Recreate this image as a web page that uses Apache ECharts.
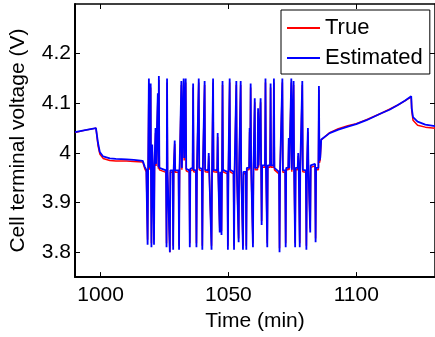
<!DOCTYPE html>
<html>
<head>
<meta charset="utf-8">
<script src="https://cdn.jsdelivr.net/npm/echarts@6/dist/echarts.min.js"></script>
<style>
html,body{margin:0;padding:0;background:#fff;}
#chart{width:435px;height:337px;}
</style>
</head>
<body>
<div id="chart"></div>
<script>
// ---- data ----
var seriesNames = ['True', 'Estimated'];
var xTickValues = [1000, 1050, 1100];
var yTickValues = [3.8, 3.9, 4.0, 4.1, 4.2];

// time (min)
var timeMin = [
  990, 994, 998.2, 998.6, 999.0, 999.7, 1001, 1003.6, 1006, 1010.2, 1013, 1016.5,
  1017.3, 1017.9,
  1018.2, 1018.4, 1018.6,
  1018.7, 1018.9, 1019.1,
  1019.4, 1019.6, 1019.7,
  1019.8, 1019.9, 1020.0,
  1020.1, 1020.2, 1020.4,
  1020.7, 1020.9, 1021.1,
  1021.3, 1021.5, 1021.7,
  1022.2, 1022.4, 1022.6,
  1022.7, 1022.8, 1023.0,
  1025.6, 1025.8, 1025.9,
  1025.9, 1026.0, 1026.2,
  1026.9, 1027.1, 1027.3,
  1028.2, 1028.4, 1028.6,
  1028.8, 1029.0, 1029.2,
  1030.5, 1030.7, 1030.9,
  1031.4, 1031.6, 1031.8,
  1032.3, 1032.5, 1032.7,
  1033.1, 1033.3, 1033.5,
  1034.7, 1034.9, 1035.1,
  1036.0, 1036.2, 1036.4,
  1037.3, 1037.5, 1037.7,
  1038.2, 1038.4, 1038.6,
  1039.6, 1039.8, 1040.0,
  1040.5, 1040.7, 1040.9,
  1042.1, 1042.3, 1042.5,
  1043.2, 1043.4, 1043.6,
  1043.8, 1044.0, 1044.2,
  1045.6, 1045.8, 1046.0,
  1046.4, 1046.6, 1046.8,
  1047.1, 1047.3, 1047.5,
  1047.5, 1047.7, 1047.9,
  1049.6, 1049.8, 1050.0,
  1050.3, 1050.5, 1050.7,
  1052.0, 1052.2, 1052.4,
  1052.9, 1053.1, 1053.3,
  1053.8, 1054.0, 1054.2,
  1054.6, 1054.8, 1055.0,
  1055.5, 1055.7, 1055.9,
  1056.8, 1057.0, 1057.2,
  1058.1, 1058.3, 1058.5,
  1058.5, 1058.7, 1058.9,
  1059.4, 1059.6, 1059.8,
  1060.1, 1060.3, 1060.5,
  1061.4, 1061.6, 1061.8,
  1062.4, 1062.6, 1062.8,
  1062.8, 1063.0, 1063.2,
  1064.3, 1064.5, 1064.7,
  1065.0, 1065.2, 1065.4,
  1066.3, 1066.5, 1066.7,
  1067.6, 1067.8, 1068.0,
  1069.8, 1070.0, 1070.2,
  1070.9, 1071.1, 1071.3,
  1072.2, 1072.4, 1072.6,
  1073.4, 1073.6, 1073.8,
  1074.4, 1074.6, 1074.8,
  1075.3, 1075.5, 1075.7,
  1075.9, 1076.1, 1076.3,
  1077.1, 1077.3, 1077.5,
  1077.7, 1077.9, 1078.1,
  1078.7, 1078.9, 1079.1,
  1080.3, 1080.5, 1080.7,
  1080.9, 1081.1, 1081.3,
  1081.8, 1082.0, 1082.2,
  1083.9, 1084.1, 1084.3,
  1085.2, 1085.4, 1085.6,
  1085.9, 1086.3,
  1089.6, 1093, 1096.7, 1100, 1104, 1109.8, 1113, 1116.1, 1119, 1121.5,
  1121.7, 1122.2, 1124, 1127, 1130.8
];

// estimated terminal voltage (V)
var estimatedV = [
  4.042, 4.046, 4.050, 4.048, 4.020, 4.002, 3.993, 3.989, 3.988, 3.987, 3.986, 3.984,
  3.972, 3.966,
  3.966, 3.815, 3.968,
  3.968, 4.150, 3.970,
  3.970, 4.140, 3.968,
  3.968, 3.810, 3.970,
  3.970, 4.017, 3.972,
  3.970, 3.815, 3.975,
  3.975, 4.050, 3.978,
  3.975, 4.120, 3.972,
  3.972, 4.155, 3.970,
  3.965, 3.810, 3.962,
  3.962, 4.150, 3.960,
  3.962, 3.800, 3.965,
  3.965, 3.805, 3.968,
  3.968, 4.025, 3.965,
  3.965, 3.805, 3.968,
  3.970, 4.145, 3.970,
  3.970, 4.150, 3.990,
  3.990, 4.150, 3.968,
  3.965, 3.810, 3.968,
  3.970, 4.140, 3.966,
  3.965, 3.810, 3.970,
  3.970, 4.150, 3.970,
  3.968, 3.805, 3.970,
  3.970, 4.145, 3.966,
  3.965, 4.000, 3.965,
  3.965, 3.805, 3.968,
  3.968, 4.150, 3.966,
  3.965, 4.040, 3.965,
  3.962, 3.840, 3.962,
  3.962, 3.835, 3.965,
  3.965, 4.145, 3.966,
  3.962, 3.805, 3.965,
  3.965, 4.150, 3.966,
  3.962, 3.805, 3.960,
  3.960, 4.145, 3.962,
  3.962, 3.820, 3.970,
  3.968, 4.145, 3.966,
  3.965, 3.805, 3.962,
  3.962, 3.805, 3.970,
  3.970, 4.050, 3.972,
  3.972, 4.140, 3.970,
  3.970, 3.810, 3.970,
  3.970, 4.110, 3.970,
  3.970, 4.090, 3.975,
  3.975, 4.110, 3.972,
  3.972, 3.855, 3.975,
  3.975, 4.150, 3.970,
  3.970, 3.810, 3.975,
  3.975, 4.140, 3.975,
  3.975, 4.150, 3.970,
  3.962, 3.800, 3.965,
  3.965, 4.150, 3.965,
  3.965, 3.810, 3.970,
  3.970, 4.030, 3.970,
  3.970, 4.150, 3.966,
  3.965, 4.145, 3.966,
  3.966, 3.810, 3.970,
  3.970, 4.000, 3.970,
  3.970, 3.810, 3.970,
  3.970, 4.145, 3.966,
  3.965, 3.805, 3.970,
  3.970, 4.050, 3.970,
  3.970, 3.840, 3.975,
  3.978, 3.820, 3.970,
  3.970, 4.135, 3.985,
  3.990, 4.027,
  4.040, 4.047, 4.053, 4.058, 4.066, 4.080, 4.087, 4.096, 4.105, 4.114,
  4.090, 4.072, 4.063, 4.057, 4.054
];

// true terminal voltage (V)
var trueV = [
  4.041, 4.046, 4.050, 4.047, 4.015, 3.998, 3.989, 3.985, 3.984, 3.984, 3.983, 3.982,
  3.968, 3.962,
  3.962, 3.825, 3.964,
  3.964, 4.140, 3.966,
  3.966, 4.132, 3.964,
  3.964, 3.818, 3.966,
  3.966, 4.010, 3.968,
  3.966, 3.825, 3.970,
  3.970, 4.040, 3.974,
  3.970, 4.110, 3.968,
  3.968, 4.147, 3.966,
  3.961, 3.818, 3.958,
  3.958, 4.142, 3.956,
  3.958, 3.800, 3.961,
  3.961, 3.813, 3.964,
  3.964, 4.018, 3.961,
  3.961, 3.813, 3.964,
  3.966, 4.137, 3.966,
  3.966, 4.142, 3.985,
  3.985, 4.142, 3.964,
  3.961, 3.818, 3.964,
  3.966, 4.132, 3.962,
  3.961, 3.818, 3.966,
  3.966, 4.142, 3.966,
  3.964, 3.813, 3.966,
  3.966, 4.137, 3.962,
  3.961, 3.994, 3.961,
  3.961, 3.813, 3.964,
  3.964, 4.142, 3.962,
  3.961, 4.032, 3.961,
  3.958, 3.848, 3.958,
  3.958, 3.843, 3.961,
  3.961, 4.137, 3.962,
  3.958, 3.813, 3.961,
  3.961, 4.142, 3.962,
  3.958, 3.813, 3.956,
  3.956, 4.137, 3.958,
  3.958, 3.828, 3.966,
  3.964, 4.137, 3.962,
  3.961, 3.813, 3.958,
  3.958, 3.813, 3.966,
  3.966, 4.042, 3.968,
  3.968, 4.132, 3.966,
  3.966, 3.818, 3.966,
  3.966, 4.102, 3.966,
  3.966, 4.082, 3.971,
  3.971, 4.102, 3.968,
  3.968, 3.863, 3.971,
  3.971, 4.142, 3.966,
  3.966, 3.818, 3.971,
  3.971, 4.132, 3.971,
  3.971, 4.142, 3.966,
  3.958, 3.808, 3.961,
  3.961, 4.142, 3.961,
  3.961, 3.818, 3.966,
  3.966, 4.022, 3.966,
  3.966, 4.142, 3.962,
  3.961, 4.137, 3.962,
  3.962, 3.818, 3.966,
  3.966, 3.994, 3.966,
  3.966, 3.818, 3.966,
  3.966, 4.137, 3.962,
  3.961, 3.813, 3.966,
  3.966, 4.042, 3.966,
  3.966, 3.848, 3.971,
  3.974, 3.828, 3.966,
  3.966, 4.127, 3.980,
  3.986, 4.026,
  4.041, 4.049, 4.055, 4.059, 4.067, 4.080, 4.088, 4.096, 4.105, 4.113,
  4.085, 4.066, 4.056, 4.052, 4.050
];

// ---- chart ----
var FONT = 'Liberation Sans';
function pairs(xs, ys) {
  var out = [];
  var n = Math.min(xs.length, ys.length);
  for (var i = 0; i < n; i++) out.push([xs[i], ys[i]]);
  return out;
}
var chart = echarts.init(document.getElementById('chart'), null, {renderer: 'canvas'});
var mainLine = {show: true, lineStyle: {color: '#000', width: 2}};
var boxLine = {show: true, lineStyle: {color: '#000', width: 1.5}};
var tick = {show: true, inside: true, length: 5, lineStyle: {color: '#000', width: 1}};
var option = {
  backgroundColor: '#fff',
  animation: false,
  grid: {left: 75, right: 0, top: 4, bottom: 57, containLabel: false},
  legend: {
    orient: 'vertical', left: 281, top: 10,
    padding: [6, 7, 4, 6], itemGap: 6,
    itemWidth: 33, itemHeight: 2, icon: 'rect',
    backgroundColor: '#fff', borderColor: '#000', borderWidth: 1,
    textStyle: {fontFamily: FONT, fontSize: 22, color: '#000', lineHeight: 24},
    data: seriesNames
  },
  xAxis: [{
    type: 'value', min: 990, max: 1130.8,
    name: 'Time (min)', nameLocation: 'middle', nameGap: 30,
    nameTextStyle: {fontFamily: FONT, fontSize: 21, color: '#000'},
    axisLine: mainLine,
    axisTick: Object.assign({customValues: xTickValues}, tick),
    axisLabel: {customValues: xTickValues, margin: 8, fontFamily: FONT, fontSize: 21, color: '#000',
      formatter: function (v) { return String(v); }},
    splitLine: {show: false}
  }, {
    type: 'value', min: 990, max: 1130.8, position: 'top',
    axisLine: boxLine,
    axisTick: Object.assign({customValues: xTickValues}, tick),
    axisLabel: {show: false},
    splitLine: {show: false}
  }],
  yAxis: [{
    type: 'value', min: 3.75, max: 4.30,
    name: 'Cell terminal voltage (V)', nameLocation: 'middle', nameGap: 46,
    nameTextStyle: {fontFamily: FONT, fontSize: 21, color: '#000'},
    axisLine: mainLine,
    axisTick: Object.assign({customValues: yTickValues}, tick),
    axisLabel: {customValues: yTickValues, margin: 4, fontFamily: FONT, fontSize: 21, color: '#000',
      formatter: function (v) { return String(Math.round(v * 10) / 10); }},
    splitLine: {show: false}
  }, {
    type: 'value', min: 3.75, max: 4.30, position: 'right',
    axisLine: boxLine,
    axisTick: Object.assign({customValues: yTickValues}, tick),
    axisLabel: {show: false},
    splitLine: {show: false}
  }],
  series: [{
    name: seriesNames[0], type: 'line', showSymbol: false, symbol: 'none',
    xAxisIndex: 0, yAxisIndex: 0,
    itemStyle: {color: '#ff0000'},
    lineStyle: {color: '#ff0000', width: 1.5},
    data: pairs(timeMin, trueV)
  }, {
    name: seriesNames[1], type: 'line', showSymbol: false, symbol: 'none',
    xAxisIndex: 0, yAxisIndex: 0,
    itemStyle: {color: '#0000ff'},
    lineStyle: {color: '#0000ff', width: 1.8},
    data: pairs(timeMin, estimatedV)
  }]
};
chart.setOption(option);
</script>
</body>
</html>
